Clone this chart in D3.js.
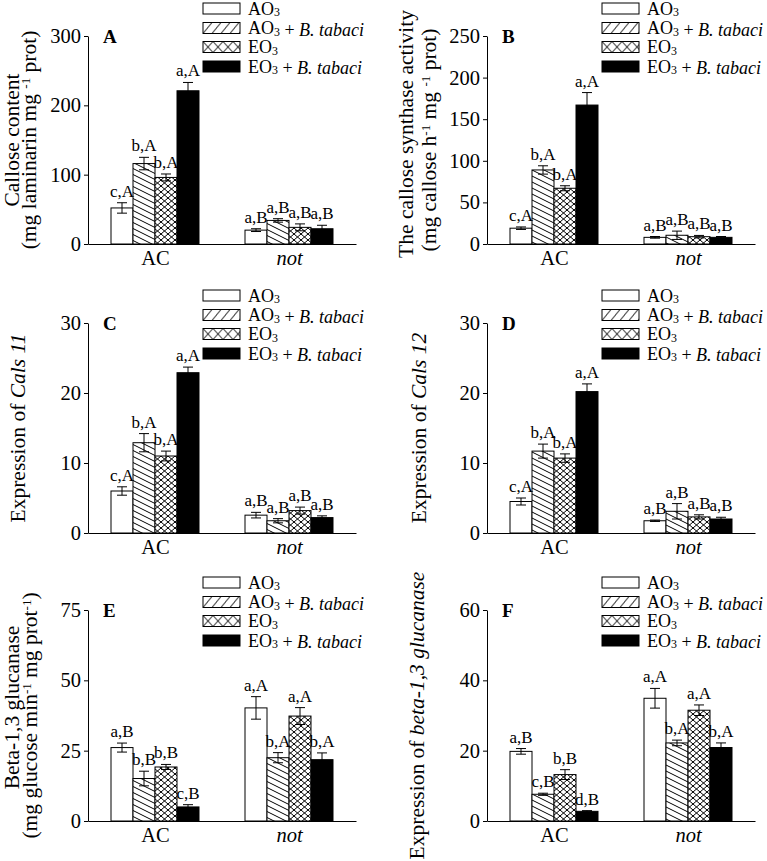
<!DOCTYPE html>
<html><head><meta charset="utf-8">
<script src="https://cdn.jsdelivr.net/npm/d3@7"></script>
<style>
body{margin:0;background:#fff}
svg{display:block}
text{font-family:"Liberation Serif","Times New Roman",Times,serif;fill:#000}
</style>
</head><body>
<svg id="chart" width="767" height="861" font-family="Liberation Serif, Times New Roman, serif"></svg>
<script>
// ---------- data ----------
const groups = ["AC", "not"];
const treatments = ["AO3", "AO3 + B. tabaci", "EO3", "EO3 + B. tabaci"];

const aMeans = [52, 116, 96, 221, 20, 34, 24, 22];
const aErrors = [7.5, 9, 5, 12, 2, 2.5, 5, 5];
const aLetters = ["c,A","b,A","b,A","a,A","a,B","a,B","a,B","a,B"];
const aTicks = [0, 100, 200, 300];

const bMeans = [19, 89, 67, 167, 8, 10.5, 8.8, 8];
const bErrors = [1.5, 5, 3, 15, 1, 5, 1.5, 1];
const bLetters = ["c,A","b,A","b,A","a,A","a,B","a,B","a,B","a,B"];
const bTicks = [0, 50, 100, 150, 200, 250];

const cMeans = [6.0, 12.9, 11.0, 22.9, 2.55, 1.75, 3.2, 2.2];
const cErrors = [0.6, 1.3, 0.7, 0.8, 0.4, 0.3, 0.5, 0.25];
const cLetters = ["c,A","b,A","b,A","a,A","a,B","a,B","a,B","a,B"];
const cTicks = [0, 10, 20, 30];

const dMeans = [4.5, 11.7, 10.7, 20.2, 1.75, 3.1, 2.3, 2.0];
const dErrors = [0.5, 1.0, 0.6, 1.1, 0.1, 1.1, 0.3, 0.25];
const dLetters = ["c,A","b,A","b,A","a,A","a,B","a,B","a,B","a,B"];
const dTicks = [0, 10, 20, 30];

const eMeans = [26.1, 15.1, 19.2, 5.0, 40.2, 22.5, 37.3, 21.8];
const eErrors = [1.6, 2.6, 0.9, 0.8, 4.0, 1.8, 3.0, 2.4];
const eLetters = ["a,B","b,B","b,B","c,B","a,A","b,A","a,A","b,A"];
const eTicks = [0, 25, 50, 75];

const fMeans = [19.8, 7.6, 13.2, 2.75, 34.9, 22.2, 31.5, 20.9];
const fErrors = [0.8, 0.3, 1.4, 0.2, 2.8, 0.8, 1.5, 1.3];
const fLetters = ["a,B","c,B","b,B","d,B","a,A","b,A","a,A","b,A"];
const fTicks = [0, 20, 40, 60];

// ---------- layout ----------
const FONT = "'Liberation Serif', 'Times New Roman', Times, serif";
const svg = d3.select("#chart");
const defs = svg.append("defs");
function pattern(id, w, h, d) {
  const p = defs.append("pattern").attr("id", id).attr("patternUnits", "userSpaceOnUse")
    .attr("width", w).attr("height", h);
  p.append("rect").attr("width", w).attr("height", h).attr("fill", "#fff");
  p.append("path").attr("d", d).attr("stroke", "#000").attr("stroke-width", 1).attr("fill", "none");
}
pattern("hatchBar", 12, 6, "M-2,-1L14,7M-2,5L2,7M10,-1L14,1");
pattern("crossBar", 7, 6, "M-1,-0.857L8,6.857M-1,6.857L8,-0.857");
pattern("hatchLeg", 9, 11, "M0,11L9,0M-1,1.2L1,-1.2M8,12.2L10,9.8");
pattern("crossLeg", 10, 11, "M0,0L10,11M0,11L10,0");

const barFill = ["#fff", "url(#hatchBar)", "url(#crossBar)", "#000"];
const legFill = ["#fff", "url(#hatchLeg)", "url(#crossLeg)", "#000"];

function rich(textSel, str, size) {
  const parts = str.split(/(O3|B\. tabaci)/).filter(s => s.length);
  parts.forEach(s => {
    if (s === "O3") {
      textSel.append("tspan").text("O");
      textSel.append("tspan").attr("font-size", size * 0.66).attr("dy", 1.5).text("3");
      textSel.append("tspan").attr("dy", -1.5).text("");
    } else if (s === "B. tabaci") {
      textSel.append("tspan").attr("font-style", "italic").text(s);
    } else {
      textSel.append("tspan").text(s);
    }
  });
}

function title(g, x, cy, parts) {
  const t = g.append("text").attr("transform", `translate(${x},${cy}) rotate(-90)`)
    .attr("text-anchor", "middle").attr("font-size", 21.5);
  let shifted = false;
  parts.forEach(([s, st]) => {
    const ts = t.append("tspan").text(s);
    if (st === "i") ts.attr("font-style", "italic");
    if (st === "sup") { ts.attr("font-size", 13).attr("dy", -6.5); shifted = true; }
    else if (shifted) { ts.attr("dy", 6.5); shifted = false; }
  });
}

function drawPanel(p) {
  const g = svg.append("g");
  const W = 268;
  const x0 = d3.scalePoint().domain(groups).range([p.left, p.left + W]).padding(0.5);
  const x1 = d3.scaleBand().domain(treatments).range([-44, 44]);
  const y = d3.scaleLinear().domain([0, d3.max(p.ticks)]).range([p.bottom, p.top]);

  const rows = p.means.map((m, i) => ({
    group: groups[Math.floor(i / 4)], t: i % 4, mean: m, err: p.errors[i], lab: p.letters[i]
  }));

  g.selectAll("rect.bar").data(rows).join("rect").attr("class", "bar")
    .attr("x", d => x0(d.group) + x1(treatments[d.t]))
    .attr("width", x1.bandwidth())
    .attr("y", d => y(d.mean))
    .attr("height", d => y(0) - y(d.mean))
    .attr("fill", d => barFill[d.t])
    .attr("stroke", "#000").attr("stroke-width", 1);

  const cx = d => x0(d.group) + x1(treatments[d.t]) + x1.bandwidth() / 2;
  const eb = g.selectAll("g.err").data(rows).join("g").attr("class", "err")
    .attr("stroke", "#000").attr("stroke-width", 1);
  eb.append("line").attr("x1", cx).attr("x2", cx)
    .attr("y1", d => y(d.mean - d.err)).attr("y2", d => y(d.mean + d.err));
  eb.append("line").attr("x1", d => cx(d) - 5).attr("x2", d => cx(d) + 5)
    .attr("y1", d => y(d.mean + d.err)).attr("y2", d => y(d.mean + d.err));
  eb.append("line").attr("x1", d => cx(d) - 5).attr("x2", d => cx(d) + 5)
    .attr("y1", d => y(d.mean - d.err)).attr("y2", d => y(d.mean - d.err));

  g.selectAll("text.lab").data(rows).join("text").attr("class", "lab")
    .attr("x", cx).attr("y", d => y(d.mean + d.err) - 6)
    .attr("text-anchor", "middle").attr("font-size", 17).text(d => d.lab);

  const ya = g.append("g").attr("transform", `translate(${p.left},0)`)
    .call(d3.axisLeft(y).tickValues(p.ticks).tickSize(4).tickPadding(3).tickSizeOuter(0));
  ya.attr("font-family", null);
  ya.selectAll("text").attr("font-size", 20.5);
  ya.selectAll("line,path").attr("stroke", "#000");

  const xa = g.append("g").attr("transform", `translate(0,${p.bottom})`)
    .call(d3.axisBottom(x0).tickSize(0).tickSizeOuter(0).tickPadding(6));
  xa.attr("font-family", null);
  xa.selectAll("text").attr("font-size", 20.5)
    .attr("font-style", d => d === "not" ? "italic" : null);
  xa.selectAll("path").attr("stroke", "#000");

  g.append("text").attr("x", p.left + 15).attr("y", p.top + 7)
    .attr("font-size", 19).attr("font-weight", "bold").text(p.name);

  const rowsY = [-27.5, -8, 11, 30.5];
  treatments.forEach((t, i) => {
    const cy = p.top + rowsY[i];
    const lg = g.append("g").attr("transform", `translate(${p.left + 115},${cy - 5.5})`);
    lg.append("rect").attr("width", 37).attr("height", 11)
      .attr("fill", legFill[i]).attr("stroke", "#000").attr("stroke-width", 1);
    const tx = g.append("text").attr("x", p.left + 160).attr("y", cy + 6).attr("font-size", 18);
    rich(tx, t, 18);
  });

  const mid = (p.top + p.bottom) / 2;
  p.titles.forEach(tl => title(g, p.left + tl.dx, mid + (tl.dy || 0), tl.parts));
}

drawPanel({name: "A", left: 88, top: 36, bottom: 244, means: aMeans, errors: aErrors, letters: aLetters, ticks: aTicks,
  titles: [{dx: -69, parts: [["Callose content"]]},
           {dx: -52, parts: [["(mg laminarin mg "], ["-1", "sup"], [" prot)"]]}]});
drawPanel({name: "B", left: 487, top: 36, bottom: 244, means: bMeans, errors: bErrors, letters: bLetters, ticks: bTicks,
  titles: [{dx: -74, dy: -6, parts: [["The callose synthase activity"]]},
           {dx: -51, parts: [["(mg callose h"], ["-1", "sup"], [" mg "], ["-1", "sup"], [" prot)"]]}]});
drawPanel({name: "C", left: 88, top: 323, bottom: 533, means: cMeans, errors: cErrors, letters: cLetters, ticks: cTicks,
  titles: [{dx: -63, parts: [["Expression of "], ["Cals 11", "i"]]}]});
drawPanel({name: "D", left: 487, top: 323, bottom: 533, means: dMeans, errors: dErrors, letters: dLetters, ticks: dTicks,
  titles: [{dx: -61, parts: [["Expression of "], ["Cals 12", "i"]]}]});
drawPanel({name: "E", left: 88, top: 610, bottom: 821, means: eMeans, errors: eErrors, letters: eLetters, ticks: eTicks,
  titles: [{dx: -69, dy: -8, parts: [["Beta-1,3 glucanase"]]},
           {dx: -51, parts: [["(mg glucose min"], ["-1", "sup"], [" mg prot"], ["-1", "sup"], [")"]]}]});
drawPanel({name: "F", left: 487, top: 610, bottom: 821, means: fMeans, errors: fErrors, letters: fLetters, ticks: fTicks,
  titles: [{dx: -63, parts: [["Expression of "], ["beta-1,3 glucanase", "i"]]}]});

svg.selectAll("text").style("font-family", FONT);
</script>
</body></html>
